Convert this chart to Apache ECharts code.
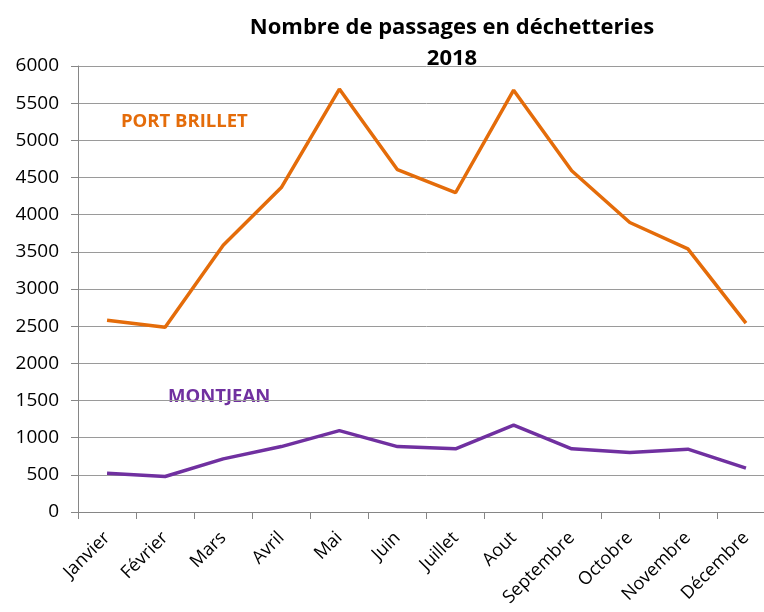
<!DOCTYPE html>
<html>
<head>
<meta charset="utf-8">
<script src="https://cdn.jsdelivr.net/npm/echarts@6/dist/echarts.min.js"></script>
<style>html,body{margin:0;padding:0;background:#fff;overflow:hidden;width:764px;height:612px}#c{width:800px;height:612px}</style>
</head>
<body>
<div id="c"></div>
<script>
const categories = ['Janvier','Février','Mars','Avril','Mai','Juin','Juillet','Aout','Septembre','Octobre','Novembre','Décembre'];
const portBrillet = [2580, 2485, 3590, 4365, 5690, 4605, 4295, 5675, 4590, 3895, 3540, 2540];
const montjean = [520, 478, 715, 880, 1095, 880, 850, 1170, 850, 800, 845, 590];
const yTicks = {min: 0, max: 6000, interval: 500};

const FONT = 'Open Sans';
const chart = echarts.init(document.getElementById('c'));
chart.setOption({
  animation: false,
  title: {
    text: 'Nombre de passages en déchetteries\n2018',
    left: 447, top: 7, textAlign: 'center',
    textStyle: {fontFamily: FONT, fontSize: 22, fontWeight: 'bold', color: '#000', lineHeight: 31}
  },
  grid: {left: 78, right: 25, top: 66, bottom: 100, containLabel: false},
  xAxis: {
    type: 'category', data: categories, boundaryGap: true,
    axisLine: {lineStyle: {color: '#868686', width: 1}},
    axisTick: {show: true, length: 7, alignWithLabel: false, lineStyle: {color: '#868686'}},
    axisLabel: {rotate: 45, interval: 0, margin: 23, fontFamily: FONT, fontSize: 18, color: '#000'}
  },
  yAxis: {
    type: 'value', min: yTicks.min, max: yTicks.max, interval: yTicks.interval,
    axisLine: {show: true, lineStyle: {color: '#868686', width: 1}},
    axisTick: {show: true, length: 7, lineStyle: {color: '#868686'}},
    splitLine: {show: true, lineStyle: {color: '#9a9a9a', width: 1}},
    axisLabel: {margin: 19, fontFamily: FONT, fontSize: 19, color: '#000', formatter: v => String(v)}
  },
  graphic: [
    {type: 'text', left: 121, top: 112, style: {text: 'PORT BRILLET', fontFamily: FONT, fontSize: 18.5, fontWeight: 'bold', fill: '#E46C0A'}},
    {type: 'text', left: 168, top: 387, style: {text: 'MONTJEAN', fontFamily: FONT, fontSize: 18.5, fontWeight: 'bold', fill: '#7030A0'}}
  ],
  series: [
    {name: 'PORT BRILLET', type: 'line', data: portBrillet, symbol: 'none', lineStyle: {color: '#E46C0A', width: 3.5}, itemStyle: {color: '#E46C0A'}},
    {name: 'MONTJEAN', type: 'line', data: montjean, symbol: 'none', lineStyle: {color: '#7030A0', width: 3.5}, itemStyle: {color: '#7030A0'}}
  ]
});
</script>
</body>
</html>
